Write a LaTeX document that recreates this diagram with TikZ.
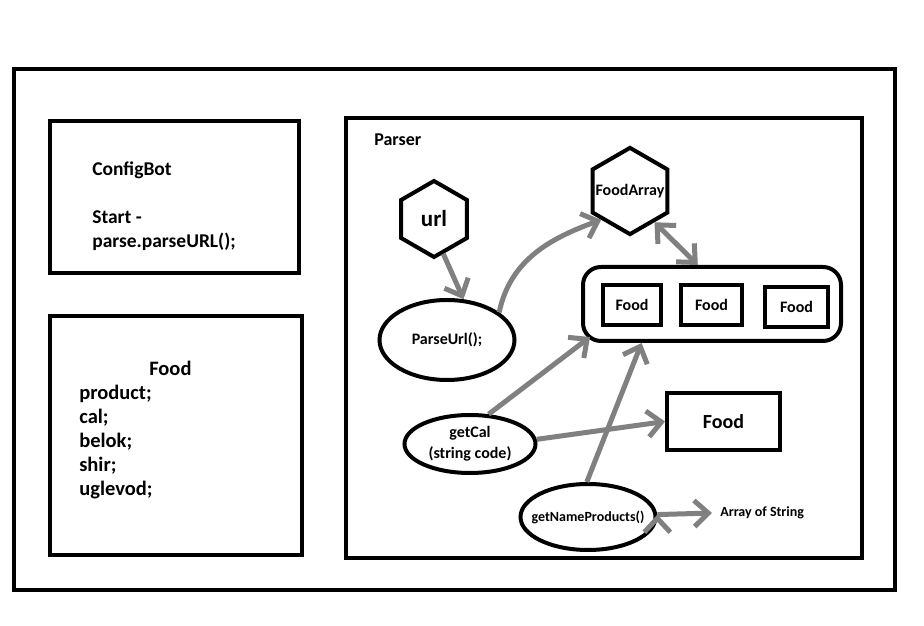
\documentclass[tikz,border=0pt]{standalone}
\usepackage{fontspec}
\setmainfont{Carlito}
\usepackage{tikz}
\usetikzlibrary{shapes,arrows.meta,positioning}

\begin{document}
\begin{tikzpicture}[x=1pt,y=1pt,->,>={Straight Barb[length=14pt,width=26pt]},semithick]
\tikzstyle{every node}=[font=\bfseries,text=black]
\tikzstyle{panel}=[draw=black,line width=4pt,inner sep=0pt]
\tikzstyle{hexnode}=[draw=black,line width=4pt,regular polygon,regular polygon sides=6,shape border rotate=30,inner sep=-8pt]
\tikzstyle{ovalnode}=[draw=black,ellipse,line width=4pt,inner sep=0pt,font=\bfseries\fontsize{16}{19}\selectfont]
\tikzstyle{boxnode}=[draw=black,line width=4pt,minimum height=40pt,font=\bfseries\fontsize{16}{19}\selectfont]
\tikzstyle{flow}=[draw=gray,line width=5pt]
\useasboundingbox (0,0) rectangle (924,626);
% frames
\node[panel,minimum width=881pt,minimum height=521pt] (main) at (454.5,296.5) {};
\node[panel,minimum width=249pt,minimum height=152pt] (cfgbox) at (174.5,429) {};
\node[anchor=west,align=left,inner sep=0pt,font=\bfseries\fontsize{19.5}{24}\selectfont] (cfgtext) at (92,419.5) {ConfigBot\\[24pt]Start -\\parse.parseURL();};
\node[panel,minimum width=252pt,minimum height=239pt] (foodcls) at (176,190.5) {};
\node[anchor=west,align=left,inner sep=0pt,font=\bfseries\fontsize{20.5}{24}\selectfont] (foodtext) at (79,196) {\hspace*{70pt}Food\\product;\\cal;\\belok;\\shir;\\uglevod;};
\node[panel,minimum width=516pt,minimum height=440pt] (parser) at (604,288) {};
\node[anchor=west,inner sep=0pt,font=\bfseries\fontsize{18}{21}\selectfont] (parserlbl) at (374,486) {Parser};
% parser content
\node[hexnode,minimum size=76pt,font=\bfseries\fontsize{23}{26}\selectfont] (url) at (434,407) {url};
\node[hexnode,minimum size=82pt,font=\bfseries\fontsize{16}{19}\selectfont] (fa) at (630,435) {FoodArray};
\node[panel,rounded corners=18pt,minimum width=258pt,minimum height=74pt] (store) at (712,322) {};
\node[boxnode,minimum width=58pt] (food1) at (632,321) {Food};
\node[boxnode,minimum width=61pt,right=16pt of food1] (food2) {Food};
\node[boxnode,minimum width=63pt,right=19pt of food2,yshift=-2pt] (food3) {Food};
\node[ovalnode,minimum width=135pt,minimum height=80pt] (pu) at (447,286) {ParseUrl();};
\node[ovalnode,minimum width=131pt,minimum height=58pt,align=center,font=\bfseries\fontsize{16}{21}\selectfont] (gc) at (470,182) {getCal\\(string code)};
\node[ovalnode,minimum width=135pt,minimum height=66pt,inner xsep=-14pt,font=\bfseries\fontsize{14}{17}\selectfont] (gnp) at (588,109) {getNameProducts()};
\node[panel,minimum width=113pt,minimum height=57pt,font=\bfseries\fontsize{20}{24}\selectfont] (foodout) at (723.5,204.5) {Food};
\node[anchor=west,inner xsep=8pt,font=\bfseries\fontsize{14}{17}\selectfont] (strarr) at (712,113) {Array of String};
% arrows
\path[flow] (url.-75) edge (pu.68)
            (pu.28) edge[out=78,in=200] (fa.225)
            (fa.-52) edge[<->] (store.110)
            (gc.58) edge ([xshift=9pt,yshift=6pt]store.south west)
            (gc.4) edge (foodout.west)
            (gnp.92) edge (store.209)
            (gnp.2) edge (strarr.west);
\end{tikzpicture}
\end{document}
